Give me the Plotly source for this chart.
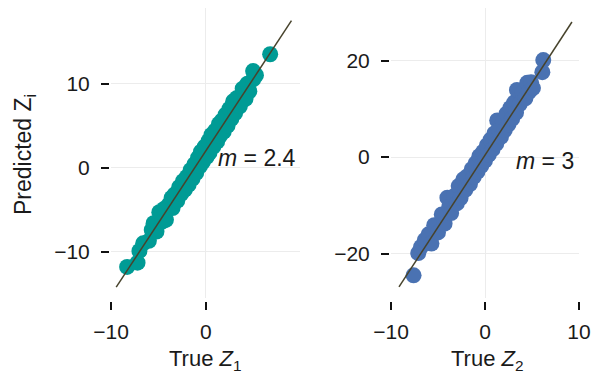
import plotly.graph_objects as go

# ---- data ----
true_z1 = [-8.3, -7.2, -7.0, -6.6, -6.0, -5.7, -5.5, -5.2, -4.9, -4.6, -4.4, -4.2, -3.9, -3.6,
           -3.5, -3.3, -3.0, -2.8, -2.6, -2.4, -2.2, -2.0, -1.8, -1.6, -1.4, -1.2, -1.0, -0.8,
           -0.6, -0.5, -0.3, -0.1, 0.1, 0.3, 0.4, 0.6, 0.8, 1.0, 1.2, 1.4, 1.5, 1.7, 1.9, 2.1,
           2.3, 2.5, 2.7, 2.9, 3.1, 3.3, 3.6, 3.9, 4.2, 4.4, 4.6, 5.0, 5.0, 5.3, 6.8]
pred_z1 = [-11.8, -11.3, -9.9, -9.0, -8.7, -7.4, -6.6, -7.6, -5.3, -6.4, -4.9, -6.2, -4.4, -3.6,
           -4.8, -3.2, -3.9, -2.3, -3.1, -1.6, -2.6, -1.1, -2.0, -0.3, -1.3, 0.4, -0.6, 1.2,
           0.2, 1.9, 0.7, 2.5, 1.3, 3.2, 1.8, 3.9, 2.5, 4.4, 3.1, 5.2, 3.8, 5.6, 4.3, 6.3,
           5.0, 7.0, 5.8, 7.9, 6.5, 8.3, 7.3, 9.4, 8.2, 10.0, 9.1, 11.5, 10.5, 11.0, 13.5]

true_z2 = [-7.6, -7.1, -6.8, -6.4, -6.0, -5.7, -5.4, -5.0, -4.6, -4.3, -4.0, -3.8, -3.6, -3.3,
           -3.0, -2.8, -2.6, -2.3, -2.1, -1.9, -1.6, -1.4, -1.2, -1.0, -0.8, -0.6, -0.4, -0.2,
           0.0, 0.2, 0.4, 0.6, 0.8, 1.0, 1.2, 1.3, 1.5, 1.7, 1.9, 2.1, 2.3, 2.5, 2.7, 2.9,
           3.1, 3.3, 3.4, 3.7, 4.0, 4.3, 4.5, 4.7, 4.9, 5.1, 6.1, 6.2]
pred_z2 = [-24.5, -19.9, -18.6, -17.2, -16.0, -17.9, -14.1, -15.6, -11.9, -13.8, -8.4, -10.3,
           -11.6, -8.1, -9.6, -6.0, -8.5, -4.6, -6.8, -4.0, -5.6, -2.5, -4.1, -1.3, -3.0, 0.2,
           -1.8, 1.1, -0.7, 2.4, 0.5, 3.6, 1.6, 4.9, 2.8, 7.6, 5.6, 4.2, 7.3, 5.6, 9.0, 6.8,
           10.2, 8.0, 11.3, 9.2, 13.9, 11.0, 13.3, 12.2, 15.4, 13.6, 15.5, 14.3, 17.6, 20.1]

# fitted lines (endpoints)
line1_x = [-9.45, 9.05]
line1_y = [-14.2, 17.5]
line2_x = [-9.15, 9.25]
line2_y = [-26.9, 28.0]

slope_labels = ["<i>m</i> = 2.4", "<i>m</i> = 3"]
x_titles = ["True <i>Z</i><sub>1</sub>", "True <i>Z</i><sub>2</sub>"]
y_title = "Predicted Z<sub>i</sub>"

x_ticks = [-10, 0, 10]
y1_ticks = [-10, 0, 10]
y2_ticks = [-20, 0, 20]

# ---- styling ----
W, H = 594, 375
FONT = "Liberation Sans"
TXT = "#1a1a1a"
TEAL = "#009b95"
BLUE = "#4a72b2"
LINE = "#47432c"
GRID = "#ececec"

def px(v):
    return v / W

def py(v):
    return 1 - v / H

left_dom = [px(111), px(300)]
right_dom = [px(391), px(579)]
ydom = [py(298), py(8)]

fig = go.Figure()

fig.add_trace(go.Scatter(x=true_z1, y=pred_z1, mode="markers",
                         marker=dict(size=16, color=TEAL, line=dict(width=0)),
                         xaxis="x", yaxis="y", showlegend=False))
fig.add_trace(go.Scatter(x=line1_x, y=line1_y, mode="lines",
                         line=dict(color=LINE, width=1.5),
                         xaxis="x", yaxis="y", showlegend=False))
fig.add_trace(go.Scatter(x=true_z2, y=pred_z2, mode="markers",
                         marker=dict(size=16, color=BLUE, line=dict(width=0)),
                         xaxis="x2", yaxis="y2", showlegend=False))
fig.add_trace(go.Scatter(x=line2_x, y=line2_y, mode="lines",
                         line=dict(color=LINE, width=1.5),
                         xaxis="x2", yaxis="y2", showlegend=False))

axis_common = dict(showline=False, zeroline=False, showgrid=True, gridcolor=GRID,
                   gridwidth=1, ticks="outside", ticklen=8, tickwidth=2, tickcolor="#111",
                   tickfont=dict(family=FONT, size=21, color=TXT), tickmode="array",
                   automargin=False)

fig.update_layout(
    width=W, height=H,
    margin=dict(l=0, r=0, t=0, b=0, autoexpand=False),
    paper_bgcolor="white", plot_bgcolor="white",
    font=dict(family=FONT, size=21, color=TXT),
    xaxis=dict(domain=left_dom, range=[-10, 9.95], anchor="free", position=py(301),
               tickvals=x_ticks, ticktext=["\u221210", "0", "10"], ticklabelstandoff=4,
               **axis_common),
    yaxis=dict(domain=ydom, range=[-15.5, 19.0], anchor="free", position=px(109),
               tickvals=y1_ticks, ticktext=["\u221210", "0", "10"], ticklabelstandoff=7,
               **axis_common),
    xaxis2=dict(domain=right_dom, range=[-10, 10], anchor="free", position=py(301),
                tickvals=x_ticks, ticktext=["\u221210", "0", "10"], ticklabelstandoff=4,
                **axis_common),
    yaxis2=dict(domain=ydom, range=[-29.2, 30.9], anchor="free", position=px(389),
                tickvals=y2_ticks, ticktext=["\u221220", "0", "20"], ticklabelstandoff=7,
                **axis_common),
)

annots = [
    dict(text=slope_labels[0], x=1.1, y=1.1, xref="x", yref="y", xanchor="left",
         yanchor="middle", showarrow=False, font=dict(size=23, color=TXT, family=FONT)),
    dict(text=slope_labels[1], x=3.1, y=-0.9, xref="x2", yref="y2", xanchor="left",
         yanchor="middle", showarrow=False, font=dict(size=23, color=TXT, family=FONT)),
    dict(text=x_titles[0], x=px(205), y=py(360), xref="paper", yref="paper",
         xanchor="center", yanchor="middle", showarrow=False,
         font=dict(size=22, color=TXT, family=FONT)),
    dict(text=x_titles[1], x=px(487), y=py(360), xref="paper", yref="paper",
         xanchor="center", yanchor="middle", showarrow=False,
         font=dict(size=22, color=TXT, family=FONT)),
    dict(text=y_title, x=px(24), y=py(155), xref="paper", yref="paper",
         xanchor="center", yanchor="middle", showarrow=False, textangle=-90,
         font=dict(size=23, color=TXT, family=FONT)),
]
fig.update_layout(annotations=annots)

fig.write_html("out.html", config={"displayModeBar": False},
               post_script="document.body.style.margin='0';document.body.style.overflow='hidden';")
